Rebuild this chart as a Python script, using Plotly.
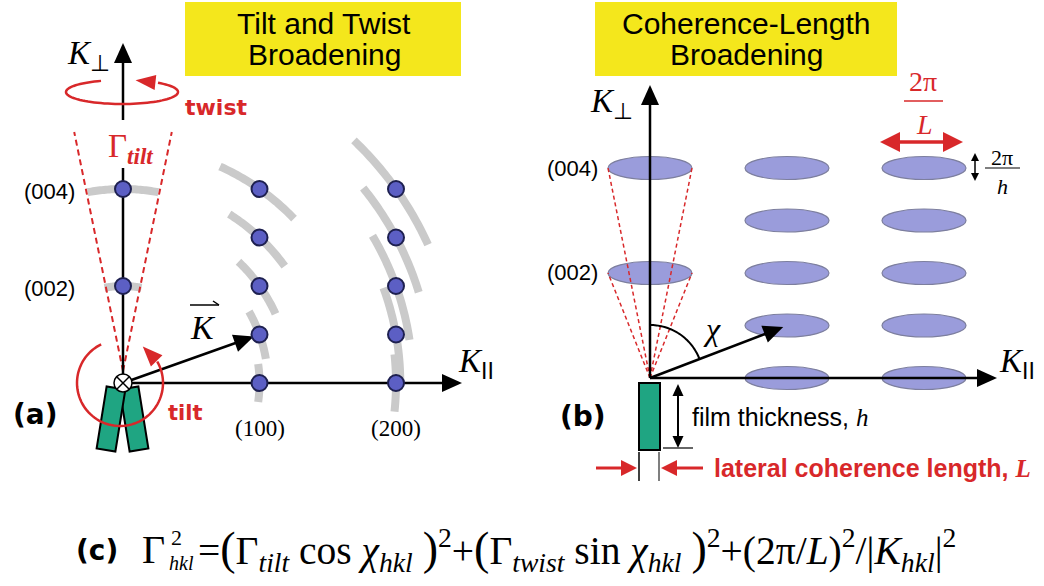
import math
import numpy as np
import plotly.graph_objects as go

W, H = 1044, 586

# ---------------- data ----------------
# panel (a): reciprocal lattice points (h, l) of a film (h0l plane)
a_h = [0, 0, 1, 1, 1, 1, 1, 2, 2, 2, 2, 2]
a_l = [4, 2, 4, 3, 2, 1, 0, 4, 3, 2, 1, 0]
# half angular width (deg) of the tilt-broadening arcs read for each point
a_arc_half = [10.5, 11, 11, 11, 11, 10, 8, 11, 11, 11, 10, 6]
gamma_tilt_deg = 11
a_l_labels = ["(004)", "(002)"]
a_l_label_pos = [4, 2]
a_h_labels = ["(100)", "(200)"]
a_h_label_pos = [1, 2]
a_vector_target = (1, 1)

# panel (b): reciprocal lattice ellipses (h, l)
b_h = [0, 0, 1, 1, 1, 1, 1, 2, 2, 2, 2, 2]
b_l = [4, 2, 4, 3, 2, 1, 0, 4, 3, 2, 1, 0]
b_l_labels = ["(004)", "(002)"]
b_l_label_pos = [4, 2]
b_vector_target = (1, 1)

# ---------------- layout scales (pixels) ----------------
A_O = (123.0, 383.0); A_SX = 136.5; A_SY = 48.5
B_O = (650.0, 378.0); B_SX = 137.0; B_SY = 52.5
B_RX = 42.0; B_RY = 11.5

RED = "#d8282a"
GREEN = "#1fa582"
YELLOW = "#f4e71c"
PT_FILL = "#5c5fc4"
PT_LINE = "#1e2050"
ELL_FILL = "#9a9cdb"
ELL_LINE = "#7d7f9e"
GRAY = "#cacaca"


def a_px(h, l):
    return A_O[0] + h * A_SX, A_O[1] - l * A_SY


def b_px(h, l):
    return B_O[0] + h * B_SX, B_O[1] - l * B_SY


shapes = []
annotations = []


def line(x0, y0, x1, y1, color="black", width=2.5, dash=None, layer="below"):
    d = dict(type="line", xref="x3", yref="y3", x0=x0, y0=y0, x1=x1, y1=y1,
             line=dict(color=color, width=width), layer=layer)
    if dash:
        d["line"]["dash"] = dash
    shapes.append(d)


def poly(pts, fill, color="black", width=0, layer="below", closed=True):
    p = "M " + " L ".join(f"{x:.2f},{y:.2f}" for x, y in pts) + (" Z" if closed else "")
    d = dict(type="path", xref="x3", yref="y3", path=p, layer=layer,
             line=dict(color=color, width=width))
    if fill:
        d["fillcolor"] = fill
    shapes.append(d)


def head(tip, frm, length, width, color="black", layer="below"):
    tx, ty = tip
    dx, dy = tx - frm[0], ty - frm[1]
    n = math.hypot(dx, dy)
    ux, uy = dx / n, dy / n
    bx, by = tx - ux * length, ty - uy * length
    nx, ny = -uy, ux
    poly([(tx, ty), (bx + nx * width / 2, by + ny * width / 2),
          (bx - nx * width / 2, by - ny * width / 2)], color, color, 0, layer)
    return bx + ux * 2, by + uy * 2


def arrow(x0, y0, x1, y1, color="black", width=2.5, hl=20, hw=18, layer="below"):
    bx, by = head((x1, y1), (x0, y0), hl, hw, color, layer)
    line(x0, y0, bx, by, color, width, layer=layer)


def text(x, y, s, size, color="black", family="Liberation Sans", xanchor="center", bold=False):
    if bold:
        s = f"<b>{s}</b>"
    annotations.append(dict(x=x / W, y=1 - y / H, xref="paper", yref="paper", text=s, showarrow=False,
                            font=dict(size=size, color=color, family=family),
                            xanchor=xanchor, yanchor="middle"))


# ---------------- title boxes ----------------
shapes.append(dict(type="rect", xref="x3", yref="y3", x0=185, x1=461, y0=2, y1=76,
                   fillcolor=YELLOW, line=dict(width=0), layer="below"))
shapes.append(dict(type="rect", xref="x3", yref="y3", x0=595, x1=897, y0=2, y1=76,
                   fillcolor=YELLOW, line=dict(width=0), layer="below"))
text(324, 24, "Tilt and Twist", 30)
text(324, 55, "Broadening", 30)
text(746, 24, "Coherence-Length", 30)
text(746, 55, "Broadening", 30)

# ---------------- panel (a) ----------------
# tilt arcs around every lattice point (circles about the origin)
for h, l, half in zip(a_h, a_l, a_arc_half):
    vx, vy = h * A_SX, l * A_SY
    r = math.hypot(vx, vy)
    th = math.atan2(vy, vx)
    ts = np.linspace(th - math.radians(half), th + math.radians(half), 40)
    hs = r * np.cos(ts) / A_SX
    ls = r * np.sin(ts) / A_SY
    p = "M " + " L ".join(f"{x:.4f},{y:.4f}" for x, y in zip(hs, ls))
    shapes.append(dict(type="path", xref="x", yref="y", path=p, layer="below",
                       line=dict(color=GRAY, width=8)))

# tilt cone (dashed)
cone_top = 132
for sgn in (-1, 1):
    dy = A_O[1] - cone_top
    x1 = A_O[0] + sgn * dy * math.tan(math.radians(gamma_tilt_deg))
    line(A_O[0], A_O[1] - 12, x1, cone_top, RED, 2, dash="6px,4px")


# green crystallites
def rect_pts(top, bot, w):
    (tx, ty), (bx, by) = top, bot
    L = math.hypot(bx - tx, by - ty)
    ux, uy = (bx - tx) / L, (by - ty) / L
    nx, ny = -uy, ux
    return [(tx + nx * w / 2, ty + ny * w / 2), (bx + nx * w / 2, by + ny * w / 2),
            (bx - nx * w / 2, by - ny * w / 2), (tx - nx * w / 2, ty - ny * w / 2)]


poly(rect_pts((129, 388), (139, 450), 19), GREEN, "black", 2)
poly(rect_pts((116, 388), (106, 450), 19), GREEN, "black", 2)

# axes
line(A_O[0], A_O[1], A_O[0], 168)
arrow(A_O[0], 120, A_O[0], 43)
arrow(A_O[0], A_O[1], 462, A_O[1])

# K vector
tx, ty = a_px(*a_vector_target)
d = math.hypot(tx - A_O[0], ty - A_O[1])
sx, sy = tx - (tx - A_O[0]) / d * 6, ty - (ty - A_O[1]) / d * 6
arrow(A_O[0], A_O[1], sx, sy)

# twist ellipse arrow
cx, cy, rx, ry = 122, 92, 56, 12
ts = np.radians(np.linspace(112, 410, 80))
poly([(cx + rx * math.cos(t), cy - ry * math.sin(t)) for t in ts], None, RED, 2.5, "above", closed=False)
end = (cx + rx * math.cos(math.radians(410)), cy - ry * math.sin(math.radians(410)))
tip = (cx + rx * math.cos(math.radians(76)), cy - ry * math.sin(math.radians(76)))
head(tip, end, 20, 15, RED, "above")

# tilt circle arrow
cx, cy, r = 120, 383, 43
ts = np.radians(np.linspace(116, 390, 80))
poly([(cx + r * math.cos(t), cy - r * math.sin(t)) for t in ts], None, RED, 2.5, "above", closed=False)
end = (cx + r * math.cos(math.radians(390)), cy - r * math.sin(math.radians(390)))
tip = (cx + r * math.cos(math.radians(58)), cy - r * math.sin(math.radians(58)))
head(tip, end, 20, 16, RED, "above")

# origin symbol
shapes.append(dict(type="circle", xref="x3", yref="y3", x0=A_O[0] - 9, x1=A_O[0] + 9,
                   y0=A_O[1] - 9, y1=A_O[1] + 9, fillcolor="white",
                   line=dict(color="black", width=1.5), layer="above"))
for sgn in (-1, 1):
    line(A_O[0] - 6, A_O[1] - 6 * sgn, A_O[0] + 6, A_O[1] + 6 * sgn, "black", 1.5, layer="above")

# labels (a)
text(88, 56, "<i>K</i><sub>⊥</sub>", 33, family="Liberation Serif")
text(216, 108, "twist", 22, RED, "DejaVu Sans", bold=True)
text(106, 148, "Γ<sub><b><i>tilt</i></b></sub>", 33, RED, "Liberation Serif", xanchor="left")
for lab, l in zip(a_l_labels, a_l_label_pos):
    text(49, a_px(0, l)[1] + 2, lab, 22)
for lab, h in zip(a_h_labels, a_h_label_pos):
    text(a_px(h, 0)[0], 428, lab, 23, family="Liberation Serif")
text(203, 327, "<i>K</i>", 34, family="Liberation Serif")
line(190, 305, 219, 305, "black", 1.5)
line(219, 305, 213, 301, "black", 1.5)
text(476, 363, "<i>K</i><sub><span style='font-family:Liberation Sans'>II</span></sub>", 33, family="Liberation Serif")
text(35, 414, "(a)", 28, family="DejaVu Sans", bold=True)
text(185, 413, "tilt", 21, RED, "DejaVu Sans", bold=True)

# ---------------- panel (b) ----------------
for h, l in zip(b_h, b_l):
    shapes.append(dict(type="circle", xref="x2", yref="y2",
                       x0=h - B_RX / B_SX, x1=h + B_RX / B_SX,
                       y0=l - B_RY / B_SY, y1=l + B_RY / B_SY,
                       fillcolor=ELL_FILL, line=dict(color=ELL_LINE, width=1.2), layer="below"))

for l in b_l_label_pos:
    for sgn in (-1, 1):
        ex, ey = b_px(0, l)
        line(B_O[0], B_O[1], ex + sgn * B_RX, ey, RED, 1.5, dash="4px,3px")

arrow(B_O[0], B_O[1], B_O[0], 85)
arrow(B_O[0], B_O[1], 997, B_O[1])

tx, ty = b_px(*b_vector_target)
d = math.hypot(tx - B_O[0], ty - B_O[1])
sx, sy = tx - (tx - B_O[0]) / d * 4, ty - (ty - B_O[1]) / d * 4
arrow(B_O[0], B_O[1], sx, sy)
ang = math.atan2(B_O[1] - ty, tx - B_O[0])
ts = np.linspace(math.pi / 2, ang, 40)
poly([(B_O[0] + 53 * math.cos(t), B_O[1] - 53 * math.sin(t)) for t in ts], None, "black", 2, closed=False)

# film
shapes.append(dict(type="rect", xref="x3", yref="y3", x0=639, x1=660, y0=383, y1=450,
                   fillcolor=GREEN, line=dict(color="black", width=2), layer="below"))
arrow(678, 416, 678, 384, "black", 2, 12, 11)
arrow(678, 416, 678, 448, "black", 2, 12, 11)
line(663, 448, 693, 448, "#333333", 1.5)
line(639, 452, 639, 481, "black", 1.5)
line(659, 452, 659, 481, "#555555", 1.5)
arrow(596, 468, 637, 468, RED, 3, 16, 16)
arrow(703, 468, 661, 468, RED, 3, 16, 16)

text(690, 417, "film thickness, <i><span style='font-family:Liberation Serif'>h</span></i>", 25, xanchor="left")
text(712, 468, "lateral coherence length, <i><span style='font-family:Liberation Serif'>L</span></i>",
     25, RED, bold=True, xanchor="left")
text(583, 416, "(b)", 28, family="DejaVu Sans", bold=True)

for lab, l in zip(b_l_labels, b_l_label_pos):
    text(572, b_px(0, l)[1], lab, 22)
text(611, 104, "<i>K</i><sub>⊥</sub>", 33, family="Liberation Serif")
text(1017, 363, "<i>K</i><sub><span style='font-family:Liberation Sans'>II</span></sub>", 33, family="Liberation Serif")
text(712, 329, "<i>χ</i>", 32, family="Liberation Serif")

# 2pi/L
text(923, 82, "2π", 28, RED, "Liberation Serif")
line(904, 101, 943, 101, RED, 1.5)
text(924, 124, "<i>L</i>", 28, RED, "Liberation Serif")
line(896, 142, 947, 142, RED, 3.5)
head((963, 142), (900, 142), 20, 20, RED)
head((880, 142), (950, 142), 20, 20, RED)

# 2pi/h
line(975, 160, 975, 174, "black", 1.5)
head((975, 153), (975, 170), 8, 8)
head((975, 181), (975, 165), 8, 8)
text(1002, 157, "2π", 22, family="Liberation Serif")
line(985, 168, 1020, 168, "black", 1.2)
text(1002, 186, "<i>h</i>", 22, family="Liberation Serif")

# ---------------- formula (c) ----------------
text(97, 550, "(c)", 28, family="DejaVu Sans", bold=True)
text(153, 549, "Γ", 40, family="Liberation Serif")
text(176, 537, "2", 22, family="Liberation Serif")
text(181, 563, "<i>hkl</i>", 20, family="Liberation Serif")
P = "<span style='font-size:46px'>{}</span>"
formula = ("=" + P.format("(") + "Γ<sub><i>tilt</i></sub> cos <i>χ</i><sub><i>hkl</i></sub> " + P.format(")") + "<sup>2</sup>"
           "+" + P.format("(") + "Γ<sub><i>twist</i></sub> sin <i>χ</i><sub><i>hkl</i></sub> " + P.format(")") + "<sup>2</sup>"
           "+(2π/<i>L</i>)<sup>2</sup>/|<i>K</i><sub><i>hkl</i></sub>|<sup>2</sup>")
text(196, 550, formula, 39.5, family="Liberation Serif", xanchor="left")

# ---------------- traces ----------------
fig = go.Figure()
fig.add_trace(go.Scatter(x=a_h, y=a_l, mode="markers", xaxis="x", yaxis="y",
                         marker=dict(size=16, color=PT_FILL, line=dict(color=PT_LINE, width=2)),
                         hoverinfo="skip", showlegend=False))
fig.add_trace(go.Scatter(x=b_h, y=b_l, mode="markers", xaxis="x2", yaxis="y2",
                         marker=dict(size=1, opacity=0), hoverinfo="skip", showlegend=False))
fig.add_trace(go.Scatter(x=[500], y=[300], mode="markers", xaxis="x3", yaxis="y3",
                         marker=dict(size=1, opacity=0), hoverinfo="skip", showlegend=False))

hidden = dict(visible=False, showgrid=False, zeroline=False, fixedrange=True,
              showticklabels=False, ticks="")
fig.update_layout(
    width=W, height=H, autosize=False,
    margin=dict(l=0, r=0, t=0, b=0, pad=0),
    paper_bgcolor="white", plot_bgcolor="white",
    showlegend=False,
    xaxis=dict(range=[-A_O[0] / A_SX, (W - A_O[0]) / A_SX], domain=[0, 1], anchor="y", **hidden),
    yaxis=dict(range=[-(H - A_O[1]) / A_SY, A_O[1] / A_SY], domain=[0, 1], anchor="x", **hidden),
    xaxis2=dict(range=[-B_O[0] / B_SX, (W - B_O[0]) / B_SX], domain=[0, 1], anchor="y2", overlaying="x", **hidden),
    yaxis2=dict(range=[-(H - B_O[1]) / B_SY, B_O[1] / B_SY], domain=[0, 1], anchor="x2", overlaying="y", **hidden),
    xaxis3=dict(range=[0, W], domain=[0, 1], anchor="y3", overlaying="x", **hidden),
    yaxis3=dict(range=[H, 0], domain=[0, 1], anchor="x3", overlaying="y", **hidden),
    shapes=shapes,
    annotations=annotations,
)
fig.write_html("out.html")
